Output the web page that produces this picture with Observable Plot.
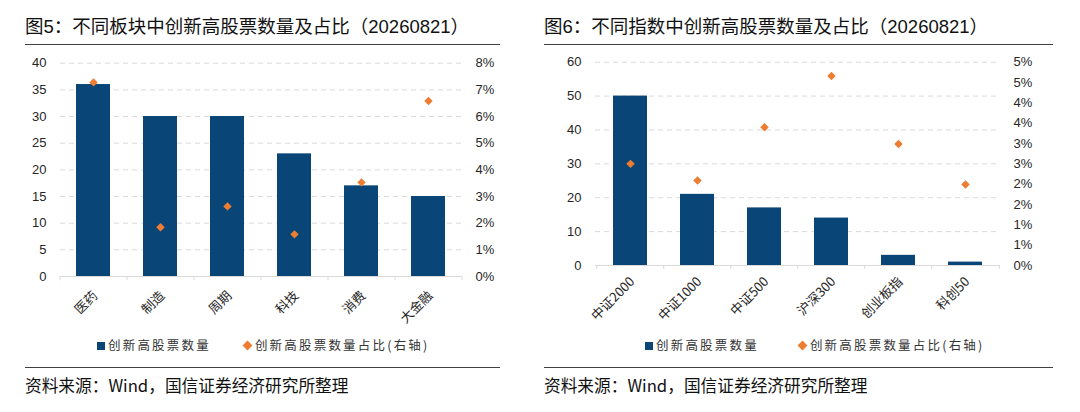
<!DOCTYPE html>
<html><head><meta charset="utf-8">
<script src="https://cdn.jsdelivr.net/npm/d3@7"></script>
<script src="https://cdn.jsdelivr.net/npm/@observablehq/plot@0.6"></script>
<style>
body{margin:0;background:#fff;}
#root{position:relative;width:1080px;height:412px;overflow:hidden;font-family:"Liberation Sans","Noto Sans CJK SC",sans-serif;}
.title{position:absolute;top:15px;font-size:18.5px;color:#111;white-space:nowrap;line-height:24px;}
.rule{position:absolute;height:0;border-top:1.5px solid #404040;}
.src{position:absolute;top:373px;font-size:16.7px;color:#111;white-space:nowrap;line-height:24px;font-family:"Noto Sans CJK SC",sans-serif;}
.chart{position:absolute;top:44px;}
.legend{position:absolute;top:336px;font-size:12.5px;color:#333;white-space:nowrap;letter-spacing:2.2px;line-height:18px;font-family:"Noto Sans CJK SC",sans-serif;}
.sq{display:inline-block;width:8px;height:8px;background:#0A4578;margin-right:3px;vertical-align:0px;}
.dm{display:inline-block;width:7px;height:7px;background:#ED7D31;transform:rotate(45deg);margin-right:4px;vertical-align:1px;}
</style></head>
<body><div id="root"></div>
<script>
// ---- data ----
const sectors = ["医药","制造","周期","科技","消费","大金融"];
const sectorCounts = [36, 30, 30, 23, 17, 15];
const sectorShare = [7.28, 1.85, 2.63, 1.58, 3.53, 6.58]; // %
const sectorLeftTicks = [0, 5, 10, 15, 20, 25, 30, 35, 40];
const sectorRightTicks = [0, 1, 2, 3, 4, 5, 6, 7, 8]; // %
const sectorRightLabels = ["0%","1%","2%","3%","4%","5%","6%","7%","8%"];

const indices = ["中证2000","中证1000","中证500","沪深300","创业板指","科创50"];
const indexCounts = [50, 21, 17, 14, 3, 1];
const indexShare = [2.50, 2.09, 3.40, 4.66, 2.99, 1.99]; // %
const indexLeftTicks = [0, 10, 20, 30, 40, 50, 60];
const indexRightTicks = [0, 0.5, 1, 1.5, 2, 2.5, 3, 3.5, 4, 4.5, 5]; // %
const indexRightLabels = ["0%","1%","1%","2%","2%","3%","3%","4%","4%","5%","5%"];

const titles = ["图5：不同板块中创新高股票数量及占比（20260821）","图6：不同指数中创新高股票数量及占比（20260821）"];
const source = "资料来源：Wind，国信证券经济研究所整理";
const legendBar = "创新高股票数量";
const legendDot = "创新高股票数量占比(右轴)";

const BAR = "#0A4578", DOT = "#ED7D31", GRID = "#D9D9D9";
const root = document.getElementById("root");

function el(cls, css, html){const d=document.createElement("div");d.className=cls;Object.assign(d.style,css);if(html!=null)d.innerHTML=html;root.appendChild(d);return d;}

function makeChart(o){
  const data = o.cats.map((c,i)=>({cat:c, n:o.counts[i], s:o.share[i]}));
  const k = o.yMax / o.rMax;
  const rMap = new Map(o.rTicks.map((t,i)=>[t*k, o.rLabels[i]]));
  const step = (o.width - o.ml - o.mr) / o.cats.length;
  const p = Plot.plot({
    width: o.width, height: 290,
    marginTop: o.mt, marginBottom: o.mb, marginLeft: o.ml, marginRight: o.mr,
    style:{fontSize:"13px", fontFamily:"'Liberation Sans', Arial, sans-serif", color:"#262626", background:"transparent"},
    x:{domain:o.cats, paddingInner:0.49, paddingOuter:0.245},
    y:{domain:[0,o.yMax]},
    marks:[
      Plot.gridY(o.lTicks.filter(t=>t>0), {stroke:GRID, strokeOpacity:1, strokeDasharray:"5,4"}),
      Plot.barY(data, {x:"cat", y:"n", fill:BAR}),
      Plot.ruleY([0], {stroke:GRID, strokeWidth:1.2}),
      Plot.ruleX(o.cats, {x:d=>d, y1:0, y2:-o.tickLen, dx:-step/2, stroke:GRID}),
      Plot.ruleX([o.cats[o.cats.length-1]], {x:d=>d, y1:0, y2:-o.tickLen, dx:step/2, stroke:GRID}),
      Plot.dot(data, {x:"cat", y:d=>d.s*k, symbol:"diamond2", r:3.8, fill:DOT, stroke:"none"}),
      Plot.axisY(o.lTicks, {anchor:"left", tickSize:0, tickPadding:14, label:null}),
      Plot.axisY(o.rTicks.map(t=>t*k), {anchor:"right", tickSize:0, tickPadding:13, label:null, textAnchor:"start", tickFormat:d=>rMap.get(d)}),
      Plot.axisX({tickSize:0, tickRotate:-45, tickPadding:o.xPad, dx:2, label:null, fontSize:13, fontFamily:"'Noto Sans CJK SC', sans-serif", fill:"#262626"})
    ]
  });
  const wrap = el("chart", {left:o.left+"px"});
  wrap.appendChild(p);
}

// panel 1
el("title",{left:"25px"},titles[0]);
el("rule",{left:"25px",top:"43.5px",width:"475px"});
makeChart({left:0,width:540,ml:60,mr:78,mt:18.7,mb:58,cats:sectors,counts:sectorCounts,share:sectorShare,
  yMax:40,rMax:8,lTicks:sectorLeftTicks,rTicks:sectorRightTicks,rLabels:sectorRightLabels,tickLen:0.8,xPad:17});
el("legend",{left:"97px"},`<span class="sq"></span>${legendBar}<span style="display:inline-block;width:33px"></span><span class="dm"></span>${legendDot}`);
el("rule",{left:"25px",top:"366.5px",width:"475px"});
el("src",{left:"25px"},source);

// panel 2
el("title",{left:"544px"},titles[1]);
el("rule",{left:"544px",top:"43.5px",width:"509px"});
makeChart({left:540,width:540,ml:55,mr:80,mt:17.7,mb:69,cats:indices,counts:indexCounts,share:indexShare,
  yMax:60,rMax:5,lTicks:indexLeftTicks,rTicks:indexRightTicks,rLabels:indexRightLabels,tickLen:1.2,xPad:14});
el("legend",{left:"645px"},`<span class="sq"></span>${legendBar}<span style="display:inline-block;width:40px"></span><span class="dm"></span>${legendDot}`);
el("rule",{left:"544px",top:"366.5px",width:"509px"});
el("src",{left:"544px"},source);
</script>
</body></html>
